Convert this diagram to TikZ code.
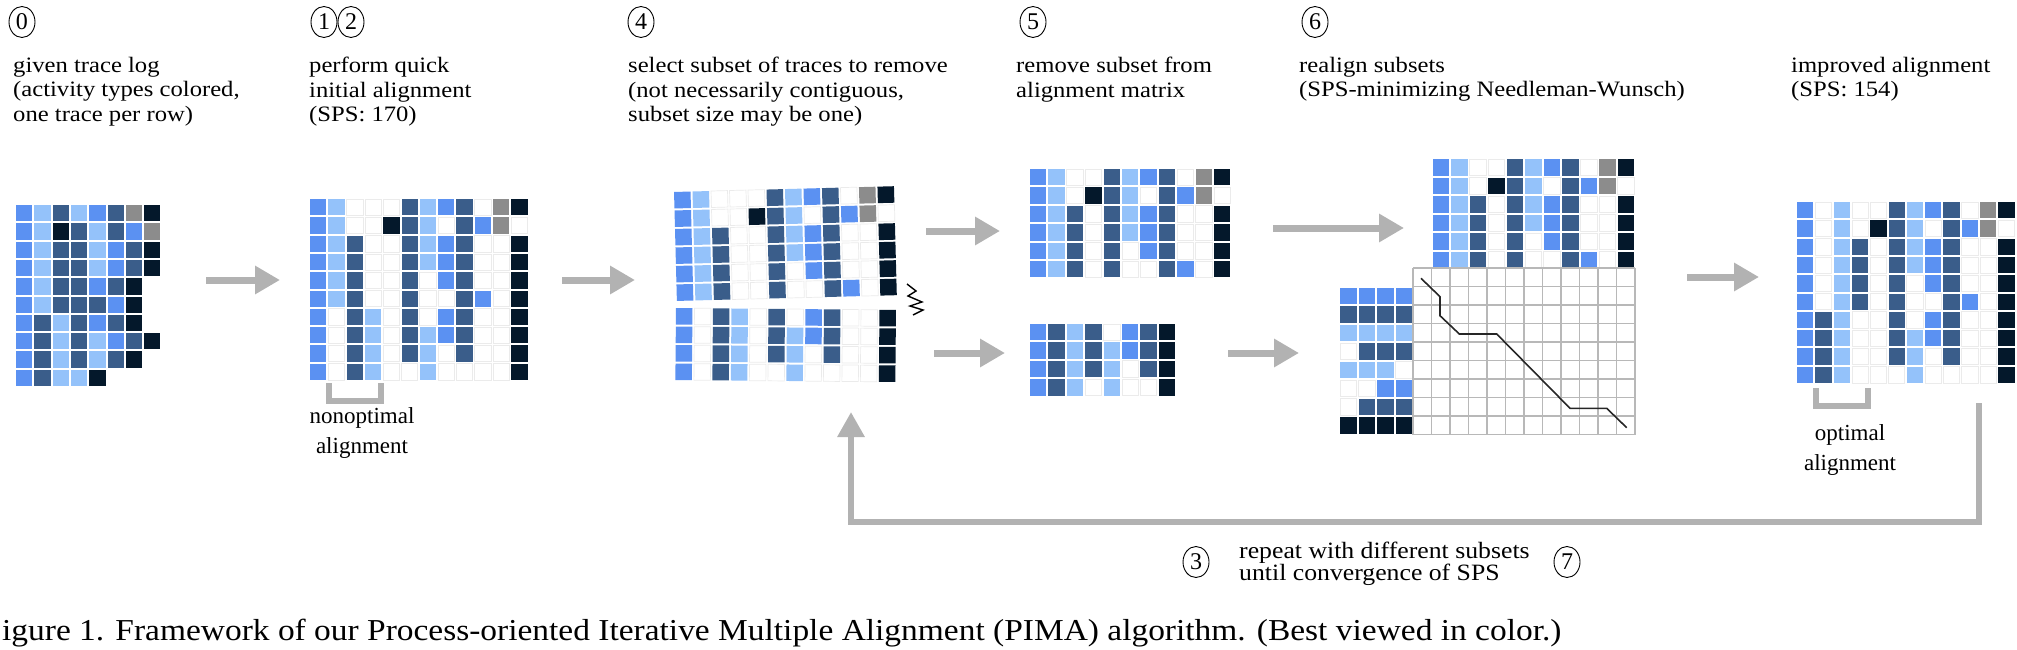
\documentclass[tikz,border=0pt]{standalone}
\usepackage{fontspec}
\setmainfont{Liberation Serif}
\newfontfamily\wideserif[FakeStretch=1.12]{Liberation Serif}
\newfontfamily\capserif[FakeStretch=1.1]{Liberation Serif}
\usetikzlibrary{arrows.meta,shapes.geometric}
\definecolor{cA}{RGB}{91,145,242}
\definecolor{cB}{RGB}{148,194,250}
\definecolor{cC}{RGB}{58,93,138}
\definecolor{cD}{RGB}{4,24,43}
\definecolor{cG}{RGB}{140,140,140}
\definecolor{arrgray}{RGB}{178,178,178}
\newcommand{\cellgrid}[4]{%
  \foreach \rowlist [count=\ri from 0] in {#4} {
    \foreach \cc [count=\ci from 0] in \rowlist {
      \pgfmathsetmacro{\xa}{#1+\ci*#3+1}
      \pgfmathsetmacro{\ya}{#2+\ri*#3+1}
      \path[cell\cc] (\xa,\ya) rectangle ++(#3-2,#3-2);
    }
  }%
}
\tikzset{
  cellA/.style={fill=cA},
  cellB/.style={fill=cB},
  cellC/.style={fill=cC},
  cellD/.style={fill=cD},
  cellG/.style={fill=cG},
  cellW/.style={draw=black!8, line width=0.7pt, fill=white},
  bigarrow/.style={draw=arrgray, line width=7pt, -{Triangle[width=27pt,length=25pt]}},
  bracketline/.style={draw=arrgray, line width=6pt},
  loopline/.style={draw=arrgray, line width=6pt, line join=miter, -{Triangle[width=26pt,length=25pt]}},
  circnum/.style={ellipse, draw, line width=0.9pt, inner sep=0pt, minimum width=26pt, minimum height=31pt, font=\fontsize{24}{24}\selectfont},
  head/.style={anchor=north west, inner sep=0pt, align=left, font=\wideserif\fontsize{22}{24.4}\selectfont},
  sublabel/.style={anchor=north, inner sep=0pt, align=center, font=\fontsize{23}{30}\selectfont},
  nwline/.style={draw=black!28, line width=1.8pt},
  nwpath/.style={draw=black!85, line width=1.6pt},
}
\begin{document}
\begin{tikzpicture}[x=1pt,y=-1pt]
\useasboundingbox (0,0) rectangle (2017,650);

% ---- header circles and texts
\node[circnum] (c0) at (22,22) {0};
\node[circnum] (c1) at (324,22) {1};
\node[circnum] (c2) at (351,22) {2};
\node[circnum] (c4) at (641,22) {4};
\node[circnum] (c5) at (1033,22) {5};
\node[circnum] (c6) at (1315,22) {6};

\node[head] (t0) at (13,57) {given trace log\\(activity types colored,\\one trace per row)};
\node[head] (t1) at (309,57) {perform quick\\initial alignment\\(SPS: 170)};
\node[head] (t4) at (628,57) {select subset of traces to remove\\(not necessarily contiguous,\\subset size may be one)};
\node[head] (t5) at (1016,57) {remove subset from\\alignment matrix};
\node[head] (t6) at (1299,57) {realign subsets\\(SPS-minimizing Needleman-Wunsch)};
\node[head] (t7) at (1791,57) {improved alignment\\(SPS: 154)};

% ---- panel 0
\cellgrid{15}{204}{18.3}{
{A,B,C,B,A,C,G,D},
{A,B,D,C,B,C,A,G},
{A,B,C,C,B,A,C,D},
{A,B,C,C,B,A,C,D},
{A,B,C,C,A,C,D},
{A,B,C,C,C,A,D},
{A,C,B,C,A,C,D},
{A,C,B,C,B,A,C,D},
{A,C,B,C,B,C,D},
{A,C,B,B,D}}

% ---- panel 1
\cellgrid{309}{198}{18.3}{
{A,B,W,W,W,C,B,A,C,W,G,D},
{A,B,W,W,D,C,B,W,C,A,G,W},
{A,B,C,W,W,C,B,A,C,W,W,D},
{A,B,C,W,W,C,B,A,C,W,W,D},
{A,B,C,W,W,C,W,A,C,W,W,D},
{A,B,C,W,W,C,W,W,C,A,W,D},
{A,W,C,B,W,C,W,A,C,W,W,D},
{A,W,C,B,W,C,B,A,C,W,W,D},
{A,W,C,B,W,C,B,W,C,W,W,D},
{A,W,C,B,W,W,B,W,W,W,W,D}}
\coordinate (b1a) at (329,383);
\coordinate (b1b) at (329,401);
\coordinate (b1c) at (381,401);
\coordinate (b1d) at (381,383);
\draw[bracketline] (b1a) -- (b1b) -- (b1c) -- (b1d);
\node[sublabel] (l1) at (362,407) {nonoptimal\\alignment};

% ---- panel 4
\begin{scope}[rotate around={1.5:(673,191)}]
\cellgrid{673}{191}{18.5}{
{A,B,W,W,W,C,B,A,C,W,G,D},
{A,B,W,W,D,C,B,W,C,A,G,W},
{A,B,C,W,W,C,B,A,C,W,W,D},
{A,B,C,W,W,C,B,A,C,W,W,D},
{A,B,C,W,W,C,W,A,C,W,W,D},
{A,B,C,W,W,C,W,W,C,A,W,D}}
\end{scope}
\begin{scope}[rotate around={-0.5:(675,307)}]
\cellgrid{675}{307}{18.5}{
{A,W,C,B,W,C,W,A,C,W,W,D},
{A,W,C,B,W,C,B,A,C,W,W,D},
{A,W,C,B,W,C,B,W,C,W,W,D},
{A,W,C,B,W,W,B,W,W,W,W,D}}
\end{scope}
\coordinate (z0) at (907,284);
\coordinate (z1) at (916,291);
\coordinate (z2) at (908,296);
\coordinate (z3) at (922,302);
\coordinate (z4) at (910,306);
\coordinate (z5) at (923,310);
\coordinate (z6) at (913,315);
\draw[line width=1.4pt, line join=miter] (z0) -- (z1) -- (z2) -- (z3) -- (z4) -- (z5) -- (z6);

% ---- panel 5
\cellgrid{1029}{168}{18.4}{
{A,B,W,W,C,B,A,C,W,G,D},
{A,B,W,D,C,B,W,C,A,G,W},
{A,B,C,W,C,B,A,C,W,W,D},
{A,B,C,W,C,B,A,C,W,W,D},
{A,B,C,W,C,W,A,C,W,W,D},
{A,B,C,W,C,W,W,C,A,W,D}}
\cellgrid{1029}{323}{18.4}{
{A,C,B,C,W,A,C,D},
{A,C,B,C,B,A,C,D},
{A,C,B,C,B,W,C,D},
{A,C,B,W,B,W,W,D}}

% ---- panel 6
\cellgrid{1431.5}{158}{18.5}{
{A,B,W,W,C,B,A,C,W,G,D},
{A,B,W,D,C,B,W,C,A,G,W},
{A,B,C,W,C,B,A,C,W,W,D},
{A,B,C,W,C,B,A,C,W,W,D},
{A,B,C,W,C,W,A,C,W,W,D},
{A,B,C,W,C,W,W,C,A,W,D}}
\cellgrid{1339}{286.5}{18.5}{
{A,A,A,A},
{C,C,C,C},
{B,B,B,B},
{W,C,C,C},
{B,B,B,W},
{W,W,A,A},
{W,C,C,C},
{D,D,D,D}}
\foreach \i in {0,...,12} {\draw[nwline] (1413+\i*18.5,268) -- (1413+\i*18.5,434.5);}
\foreach \j in {0,...,9} {\draw[nwline] (1413,268+\j*18.5) -- (1635,268+\j*18.5);}
\coordinate (p0) at (1421,278.3);
\coordinate (p1) at (1440,296.7);
\coordinate (p2) at (1440,315.7);
\coordinate (p3) at (1459.3,334);
\coordinate (p4) at (1496.7,334);
\coordinate (p5) at (1570,408.3);
\coordinate (p6) at (1606.7,408.3);
\coordinate (p7) at (1626.7,427.7);
\draw[nwpath] (p0) -- (p1) -- (p2) -- (p3) -- (p4) -- (p5) -- (p6) -- (p7);

% ---- panel 7
\cellgrid{1796}{201}{18.3}{
{A,W,B,W,W,C,B,A,C,W,G,D},
{A,W,B,W,D,C,B,W,C,A,G,W},
{A,W,B,C,W,C,B,A,C,W,W,D},
{A,W,B,C,W,C,B,A,C,W,W,D},
{A,W,B,C,W,C,W,A,C,W,W,D},
{A,W,B,C,W,C,W,W,C,A,W,D},
{A,C,B,W,W,C,W,A,C,W,W,D},
{A,C,B,W,W,C,B,A,C,W,W,D},
{A,C,B,W,W,C,B,W,C,W,W,D},
{A,C,B,W,W,W,B,W,W,W,W,D}}
\coordinate (b7a) at (1816,388);
\coordinate (b7b) at (1816,406);
\coordinate (b7c) at (1868,406);
\coordinate (b7d) at (1868,388);
\draw[bracketline] (b7a) -- (b7b) -- (b7c) -- (b7d);
\node[sublabel] (l7) at (1850,424) {optimal\\alignment};

% ---- arrows between stages
\coordinate (a01s) at (206,280); \coordinate (a01e) at (280,280);
\coordinate (a14s) at (562,280); \coordinate (a14e) at (635,280);
\coordinate (a45ts) at (926,231); \coordinate (a45te) at (1000,231);
\coordinate (a45bs) at (934,353); \coordinate (a45be) at (1005,353);
\coordinate (a56ts) at (1273,228); \coordinate (a56te) at (1404,228);
\coordinate (a56bs) at (1228,353); \coordinate (a56be) at (1299,353);
\coordinate (a67s) at (1687,277); \coordinate (a67e) at (1759,277);
\draw[bigarrow] (a01s) -- (a01e);
\draw[bigarrow] (a14s) -- (a14e);
\draw[bigarrow] (a45ts) -- (a45te);
\draw[bigarrow] (a45bs) -- (a45be);
\draw[bigarrow] (a56ts) -- (a56te);
\draw[bigarrow] (a56bs) -- (a56be);
\draw[bigarrow] (a67s) -- (a67e);

% ---- feedback loop
\coordinate (loopS) at (1979,403);
\coordinate (loopB) at (1979,522);
\coordinate (loopC) at (851,522);
\coordinate (loopT) at (851,412);
\draw[loopline] (loopS) -- (loopB) -- (loopC) -- (loopT);

\node[circnum] (c3) at (1196,562) {3};
\node[anchor=north west, inner sep=0pt, align=left, font=\capserif\fontsize{23.4}{22}\selectfont] (rep) at (1239,542) {repeat with different subsets\\until convergence of SPS};
\node[circnum] (c7) at (1567,562) {7};

% ---- caption
\node[anchor=base west, inner sep=0pt, font=\capserif\fontsize{30.4}{30.4}\selectfont] (cap) at (2,640) {igure 1. Framework of our Process-oriented Iterative Multiple Alignment (PIMA) algorithm. (Best viewed in color.)};
\end{tikzpicture}
\end{document}
